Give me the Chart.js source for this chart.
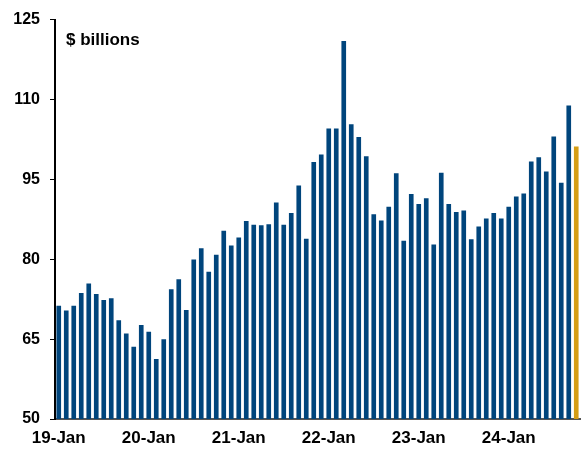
<!DOCTYPE html>
<html>
<head>
<meta charset="utf-8">
<script src="https://cdn.jsdelivr.net/npm/chart.js@4"></script>
<style>
  html, body { margin: 0; padding: 0; background: #fff; }
  #wrap { width: 582px; height: 450px; }
</style>
</head>
<body>
<div id="wrap"><canvas id="chart" width="582" height="450"></canvas></div>
<script>
// ===============================
// Data
// ===============================
const years = ["19", "20", "21", "22", "23", "24"];
const months = ["Jan", "Feb", "Mar", "Apr", "May", "Jun", "Jul", "Aug", "Sep", "Oct", "Nov", "Dec"];

// monthly values, $ billions (Jan 2019 - Oct 2024)
const values2019 = [71.2, 70.3, 71.2, 73.6, 75.4, 73.4, 72.3, 72.6, 68.5, 66.0, 63.5, 67.6];
const values2020 = [66.3, 61.2, 64.9, 74.3, 76.2, 70.4, 79.9, 82.0, 77.6, 80.8, 85.3, 82.5];
const values2021 = [84.0, 87.1, 86.4, 86.3, 86.5, 90.6, 86.4, 88.6, 93.8, 83.8, 98.2, 99.6];
const values2022 = [104.5, 104.5, 120.9, 105.3, 102.9, 99.3, 88.4, 87.2, 89.8, 96.1, 83.4, 92.2];
const values2023 = [90.3, 91.4, 82.7, 96.2, 90.3, 88.8, 89.1, 83.7, 86.1, 87.6, 88.6, 87.6];
const values2024 = [89.8, 91.7, 92.3, 98.3, 99.1, 96.4, 103.0, 94.3, 108.8, 101.1];

const yTicks = [50, 65, 80, 95, 110, 125];
const unitLabel = "$ billions";

const values = [].concat(values2019, values2020, values2021, values2022, values2023, values2024);

const categories = [];
years.forEach(y => months.forEach(m => categories.push(y + "-" + m)));
categories.length = values.length;

// ===============================
// Styles
// ===============================
const blue = "#00457c";
const gold = "#d59d14";
const barColors = values.map((v, i) => i === values.length - 1 ? gold : blue);
const fontFamily = "'Liberation Sans', Arial, sans-serif";

// draws the unit label inside the plot area
const unitLabelPlugin = {
	id: "unitLabel",
	afterDraw(chart) {
		const ctx = chart.ctx;
		ctx.save();
		ctx.font = "bold 17px " + fontFamily;
		ctx.fillStyle = "#000";
		ctx.textAlign = "left";
		ctx.textBaseline = "alphabetic";
		ctx.fillText(unitLabel, chart.chartArea.left + 11, 45);
		ctx.restore();
	}
};

new Chart(document.getElementById("chart"), {
	type: "bar",
	data: {
		labels: categories,
		datasets: [{
			data: values,
			backgroundColor: barColors,
			borderWidth: 0,
			barThickness: 4
		}]
	},
	options: {
		responsive: false,
		animation: false,
		layout: { padding: { top: 19, right: 2, bottom: 0, left: 0 } },
		plugins: {
			legend: { display: false },
			tooltip: { enabled: false }
		},
		scales: {
			x: {
				offset: true,
				grid: {
					offset: true,
					drawOnChartArea: false,
					drawTicks: true,
					tickLength: 5,
					lineWidth: 1,
					color: ctx => (ctx.index % 12 === 0 ? "#444" : "rgba(0,0,0,0)")
				},
				border: { display: true, color: "#555", width: 2 },
				ticks: {
					autoSkip: false,
					maxRotation: 0,
					padding: 4,
					color: "#000",
					font: { family: fontFamily, size: 17, weight: "bold" },
					callback: (val, i) => (i % 12 === 0 ? categories[i] : null)
				},
				afterFit: scale => { scale.height = 31; }
			},
			y: {
				min: yTicks[0],
				max: yTicks[yTicks.length - 1],
				afterBuildTicks: scale => { scale.ticks = yTicks.map(v => ({ value: v })); },
				grid: {
					drawOnChartArea: false,
					drawTicks: true,
					tickLength: 5,
					color: "#000"
				},
				border: { display: true, color: "#000", width: 2 },
				ticks: {
					padding: 10,
					color: "#000",
					font: { family: fontFamily, size: 16, weight: "bold" }
				},
				afterFit: scale => { scale.width = 55; }
			}
		}
	},
	plugins: [unitLabelPlugin]
});
</script>
</body>
</html>
